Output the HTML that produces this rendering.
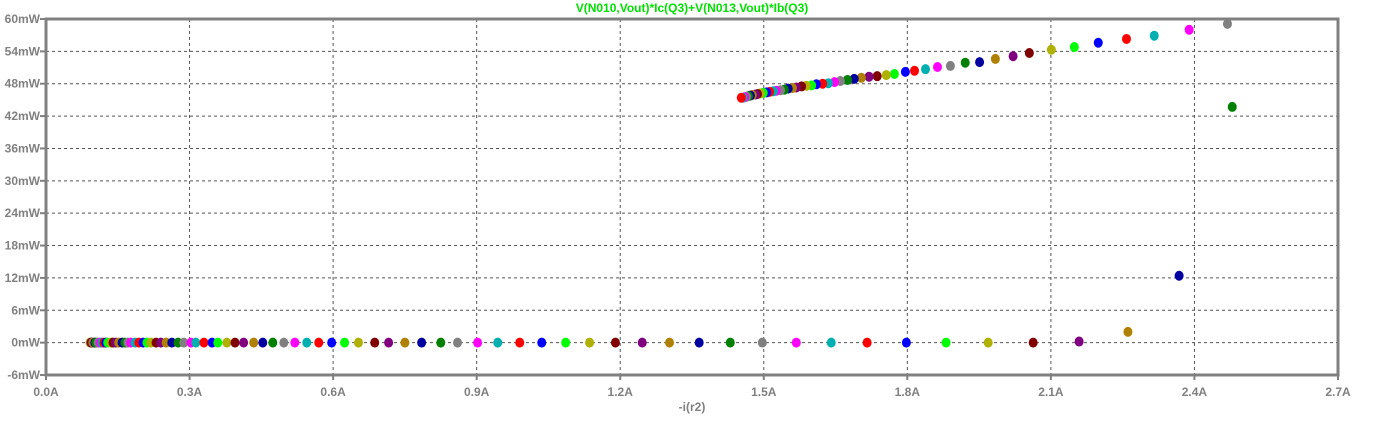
<!DOCTYPE html>
<html><head><meta charset="utf-8"><style>
body{margin:0;background:#fff;}
svg{display:block;font-family:"Liberation Sans",sans-serif;}
</style></head><body>
<svg id="chart" width="1376" height="422" viewBox="0 0 1376 422" xmlns="http://www.w3.org/2000/svg">
<rect width="1376" height="422" fill="#fff"/>
<text x="692" y="12" text-anchor="middle" font-size="12" font-weight="bold" fill="#00e000">V(N010,Vout)*Ic(Q3)+V(N013,Vout)*Ib(Q3)</text>
<g id="grid"></g>
<g id="axes"></g>
<g id="pts"></g>
<text x="692" y="411" text-anchor="middle" font-size="12" font-weight="bold" fill="#808080">-i(r2)</text>
</svg>
<script>
const xTicks=[0,0.3,0.6,0.9,1.2,1.5,1.8,2.1,2.4,2.7];
const xTickLabels=["0.0A","0.3A","0.6A","0.9A","1.2A","1.5A","1.8A","2.1A","2.4A","2.7A"];
const yTicks=[-6,0,6,12,18,24,30,36,42,48,54,60];
const yTickLabels=["-6mW","0mW","6mW","12mW","18mW","24mW","30mW","36mW","42mW","48mW","54mW","60mW"];
// current (A) of each step, in sweep order
const currentA=[0.092,0.094,0.096,0.098,0.102,0.104,0.109,0.113,0.117,0.121,0.125,0.129,0.136,0.140,0.146,0.152,0.159,0.165,0.171,0.177,0.186,0.194,0.203,0.211,0.219,0.230,0.240,0.251,0.263,0.276,0.288,0.303,0.313,0.330,0.347,0.359,0.378,0.395,0.413,0.434,0.453,0.474,0.497,0.520,0.545,0.570,0.597,0.624,0.653,0.687,0.716,0.750,0.785,0.825,0.860,0.902,0.944,0.990,1.036,1.086,1.136,1.190,1.246,1.303,1.365,1.430,1.497,1.568,1.641,1.716,1.798,1.881,1.969,2.063,2.159,2.261,2.368,2.479,
2.469,2.389,2.316,2.258,2.199,2.149,2.101,2.055,2.021,1.984,1.951,1.921,1.890,1.863,1.838,1.815,1.796,1.773,1.756,1.737,1.720,1.704,1.689,1.675,1.660,1.648,1.635,1.623,1.610,1.600,1.589,1.579,1.568,1.560,1.551,1.543,1.535,1.526,1.520,1.512,1.506,1.499,1.493,1.487,1.483,1.476,1.472,1.468,1.464,1.460,1.456,1.453];
// power (mW) of each step
const powerMW=[0,0,0,0,0,0,0,0,0,0,0,0,0,0,0,0,0,0,0,0,0,0,0,0,0,0,0,0,0,0,0,0,0,0,0,0,0,0,0,0,0,0,0,0,0,0,0,0,0,0,0,0,0,0,0,0,0,0,0,0,0,0,0,0,0,0,0,0,0,0,0,0,0,0,0.2,2.0,12.4,43.7,
59.1,58.0,56.9,56.3,55.6,54.8,54.3,53.7,53.1,52.6,52.0,51.9,51.3,51.1,50.7,50.4,50.2,49.8,49.6,49.4,49.3,49.1,48.9,48.7,48.5,48.3,48.1,48.0,47.9,47.7,47.6,47.5,47.3,47.2,47.1,46.9,46.8,46.7,46.6,46.5,46.4,46.3,46.2,46.1,46.0,45.9,45.8,45.7,45.6,45.5,45.4,45.4];
const palette=["#ff00ff","#00b0b0","#ff0000","#0000ff","#00ff00","#b0b000","#800000","#800080","#b08000","#0000a0","#008000","#808080"];
const L=46,R=1338,T=19,B=375;
const xs=v=>L+(v-0)/(2.7-0)*(R-L);
const ys=v=>B-(v+6)/(66)*(B-T);
const NS="http://www.w3.org/2000/svg";
function mk(tag,attrs,parent,txt){const e=document.createElementNS(NS,tag);for(const k in attrs)e.setAttribute(k,attrs[k]);if(txt!==undefined)e.textContent=txt;parent.appendChild(e);return e;}
const grid=document.getElementById('grid'),axes=document.getElementById('axes'),pts=document.getElementById('pts');
xTicks.forEach((v,i)=>{const x=xs(v);
 if(i>0&&i<xTicks.length-1){const g=mk('line',{x1:x,y1:T,x2:x,y2:B,stroke:'#555','stroke-width':1,'stroke-dasharray':'3,3'},grid);
 
 }
 const t=mk('line',{x1:x,y1:B,x2:x,y2:B+5,stroke:'#808080','stroke-width':2},axes);
 
 
 const l=mk('text',{x:x,y:B+21,'text-anchor':'middle','font-size':12,'font-weight':'bold',fill:'#808080'},axes,xTickLabels[i]);
 
 
});
yTicks.forEach((v,i)=>{const y=ys(v);
 if(i>0&&i<yTicks.length-1){const g=mk('line',{x1:L,y1:y,x2:R,y2:y,stroke:'#555','stroke-width':1,'stroke-dasharray':'3,3'},grid);
 
 }
 const t=mk('line',{x1:L-6,y1:y,x2:L,y2:y,stroke:'#808080','stroke-width':2},axes);
 
 
 const l=mk('text',{x:L-6,y:y+4,'text-anchor':'end','font-size':12,'font-weight':'bold',fill:'#808080'},axes,yTickLabels[i]);
 
 
});
const fr=mk('rect',{x:L,y:T,width:R-L,height:B-T,fill:'none',stroke:'#808080','stroke-width':3},axes);


currentA.forEach((a,i)=>{
 const c=mk('ellipse',{cx:xs(a),cy:ys(powerMW[i]),rx:4.5,ry:5,fill:palette[(i+5)%12]},pts);
 
 
});
</script>
</body></html>
